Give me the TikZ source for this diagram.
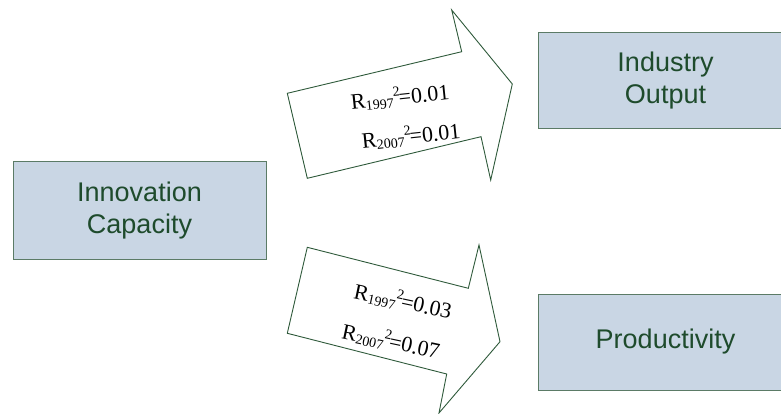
\documentclass[tikz,border=0pt]{standalone}
\usepackage{fontspec}
\setmainfont{Liberation Sans}
\newfontfamily\timesfont{Liberation Serif}
\definecolor{boxfill}{HTML}{C9D6E4}
\definecolor{boxline}{HTML}{5B7B66}
\definecolor{labeltext}{HTML}{1E4B2C}
\definecolor{arrowline}{HTML}{2F5A3B}
% R-squared label: R_{year}^{2}=value, with the exponent set after the subscript
\newcommand{\rsqlabel}[2]{R\raisebox{-0.25ex}{\fontsize{14}{14}\selectfont #1}\raisebox{0.85ex}{\fontsize{14}{14}\selectfont 2}\kern-1.5pt=#2}
\begin{document}
\begin{tikzpicture}[x=1pt,y=-1pt,
  factor/.style={draw=boxline, line width=1pt, fill=boxfill, text=labeltext,
    font=\fontsize{27}{32}\selectfont, align=center, inner sep=0pt},
  fatarrow/.style={draw=arrowline, line width=0.9pt, fill=white, line join=miter},
  rlabel/.style={font=\timesfont\fontsize{22}{22}\selectfont, text=black, inner sep=0pt}]
\useasboundingbox (0,0) rectangle (781,414);
\clip (0,0) rectangle (781,414);

% factor boxes
\node[factor, minimum width=253pt, minimum height=97pt] (innov) at (139.5,210.5) {Innovation\\Capacity};
\node[factor, minimum width=255pt, minimum height=96pt] (output) at (665.5,81) {Industry\\Output};
\node[factor, minimum width=255pt, minimum height=96pt] (prod) at (665.5,342) {Productivity};

% block arrow towards industry output
\draw[fatarrow] (287.3,93.3) -- (461.7,51.7) -- (451.7,10) -- (512.3,84)
  -- (490.7,180) -- (481,136.7) -- (307.3,178.3) -- cycle;
\node[rlabel, rotate=6] (r1top) at (400,97) {\rsqlabel{1997}{0.01}};
\node[rlabel, rotate=6] (r2top) at (411,136) {\rsqlabel{2007}{0.01}};

% block arrow towards productivity
\draw[fatarrow] (307.3,247.3) -- (468.3,288.3) -- (479,245) -- (500,341.7)
  -- (439,413) -- (446.7,374) -- (287.3,333.3) -- cycle;
\node[rlabel, rotate=-12] (r1bot) at (403,301) {\rsqlabel{1997}{0.03}};
\node[rlabel, rotate=-12] (r2bot) at (391,341) {\rsqlabel{2007}{0.07}};
\end{tikzpicture}
\end{document}
